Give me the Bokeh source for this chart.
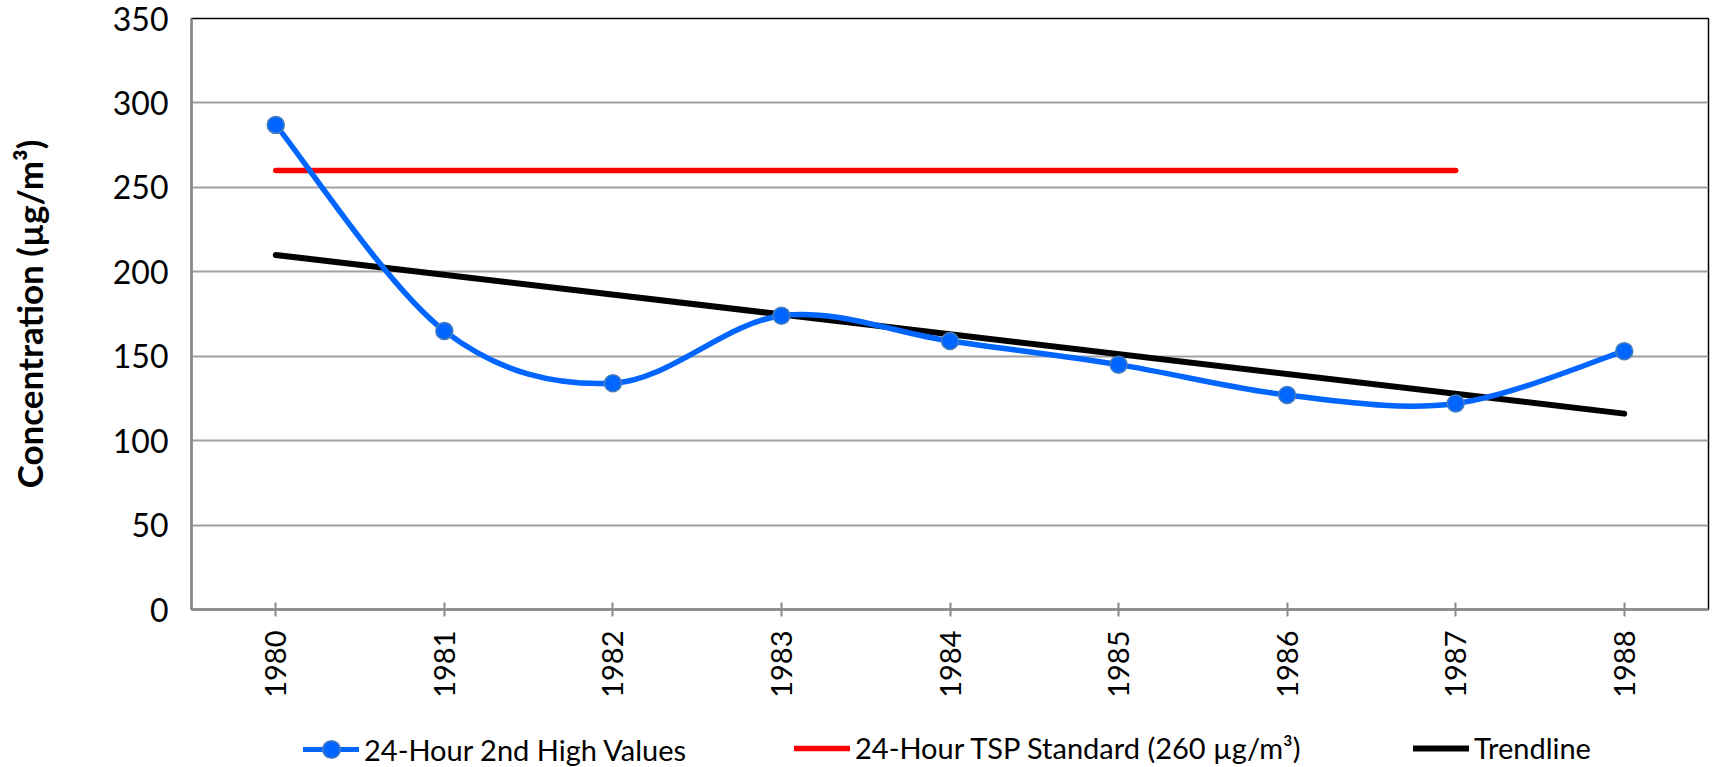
from bokeh.plotting import figure
from bokeh.models import Range1d, Legend, LegendItem, FixedTicker, ColumnDataSource
from bokeh.layouts import column
from bokeh.embed import file_html
from bokeh.resources import INLINE
import math

# ---- data ----
years = [1980, 1981, 1982, 1983, 1984, 1985, 1986, 1987, 1988]
high_values = [287, 165, 134, 174, 159, 145, 127, 122, 153]
std_years = [1980, 1987]
std_values = [260, 260]
trend_years = [1980, 1988]
trend_values = [210, 116]
y_ticks = [0, 50, 100, 150, 200, 250, 300, 350]
series_labels = ["24-Hour 2nd High Values", "24-Hour TSP Standard (260 µg/m³)", "Trendline"]
y_title = "Concentration (µg/m³)"

BLUE = "#0066FF"
RED = "#FF0000"
FONT = "Lato"

# smoothed curve (Catmull-Rom -> cubic Bezier), built from the data
n = len(years)
def P(i):
    i = max(0, min(n - 1, i))
    return years[i], high_values[i]
bz = dict(x0=[], y0=[], x1=[], y1=[], cx0=[], cy0=[], cx1=[], cy1=[])
for i in range(n - 1):
    xa, ya = P(i - 1); xb, yb = P(i); xc, yc = P(i + 1); xd, yd = P(i + 2)
    bz["x0"].append(xb); bz["y0"].append(yb)
    bz["x1"].append(xc); bz["y1"].append(yc)
    bz["cx0"].append(xb + (xc - xa) / 6.0); bz["cy0"].append(yb + (yc - ya) / 6.0)
    bz["cx1"].append(xc - (xd - xb) / 6.0); bz["cy1"].append(yc - (yd - yb) / 6.0)

p = figure(width=1713, height=700, x_range=Range1d(1979.5, 1988.5), y_range=Range1d(0, 350),
           output_backend="svg", toolbar_location=None,
           min_border_left=191, min_border_right=5, min_border_top=18, min_border_bottom=82)

p.background_fill_color = "white"
p.border_fill_color = "white"
p.outline_line_color = "black"
p.outline_line_width = 1.5

# grid
p.xgrid.grid_line_color = None
p.ygrid.ticker = FixedTicker(ticks=y_ticks[:-1])
p.ygrid.grid_line_color = "#a0a0a0"
p.ygrid.grid_line_width = 2

# axes
p.xaxis.ticker = FixedTicker(ticks=years)
p.xaxis.major_label_orientation = math.pi / 2
p.xaxis.major_label_text_font = FONT
p.xaxis.major_label_text_font_size = "29px"
p.xaxis.major_label_text_color = "#000000"
p.xaxis.major_label_standoff = 14
p.xaxis.major_tick_in = 7
p.xaxis.major_tick_out = 7
p.xaxis.major_tick_line_color = "#888888"
p.xaxis.major_tick_line_width = 2
p.xaxis.minor_tick_line_color = None
p.xaxis.axis_line_color = "#888888"
p.xaxis.axis_line_width = 2.5

p.yaxis.ticker = FixedTicker(ticks=y_ticks)
p.yaxis.major_label_text_font = FONT
p.yaxis.major_label_text_font_size = "32px"
p.yaxis.major_label_text_color = "#000000"
p.yaxis.major_label_standoff = 23
p.yaxis.major_tick_in = 0
p.yaxis.major_tick_out = 0
p.yaxis.minor_tick_line_color = None
p.yaxis.axis_line_color = "#888888"
p.yaxis.axis_line_width = 2.5
p.yaxis.axis_label = y_title
p.yaxis.axis_label_text_font = FONT
p.yaxis.axis_label_text_font_style = "bold"
p.yaxis.axis_label_text_font_size = "35px"
p.yaxis.axis_label_text_color = "#000000"
p.yaxis.axis_label_standoff = 60

# series
p.line(std_years, std_values, line_color=RED, line_width=5.5, line_cap="round")
p.line(trend_years, trend_values, line_color="black", line_width=6, line_cap="round")
p.bezier(source=ColumnDataSource(bz), x0="x0", y0="y0", x1="x1", y1="y1",
         cx0="cx0", cy0="cy0", cx1="cx1", cy1="cy1",
         line_color=BLUE, line_width=5.5, line_cap="round")
p.scatter(years, high_values, size=17, marker="circle", fill_color=BLUE,
          line_color="#4a7ebb", line_width=1.5)

# ---- legend strip (own figure; its renderers sit outside its visible range) ----
lg = figure(width=1713, height=67, x_range=Range1d(1979.5, 1988.5), y_range=Range1d(1000, 1001),
            output_backend="svg", toolbar_location=None, x_axis_location=None, y_axis_location=None,
            min_border_left=191, min_border_right=5, min_border_top=0, min_border_bottom=0)
lg.grid.grid_line_color = None
lg.outline_line_color = None
lg.background_fill_color = "white"
lg.border_fill_color = "white"
l_line = lg.line(years, high_values, line_color=BLUE, line_width=5, line_cap="round")
l_pts = lg.scatter(years, high_values, size=17, marker="circle", fill_color=BLUE,
                   line_color="#4a7ebb", line_width=1.5)
l_std = lg.line(std_years, std_values, line_color=RED, line_width=5.5, line_cap="round")
l_trend = lg.line(trend_years, trend_values, line_color="black", line_width=6, line_cap="round")

def add_item(label, renderers, x, y, gh):
    leg = Legend(items=[LegendItem(label=label, renderers=renderers)], location=(x, y),
                 orientation="horizontal", padding=0, margin=0, spacing=0,
                 glyph_width=56, glyph_height=gh, label_height=30, label_standoff=5,
                 label_text_font=FONT, label_text_font_size="29px", label_text_color="#000000",
                 border_line_color=None, background_fill_alpha=0)
    lg.add_layout(leg, "center")

add_item(series_labels[0], [l_line, l_pts], 112, -4, 44)
add_item(series_labels[1], [l_std], 603, 2, 30)
add_item(series_labels[2], [l_trend], 1222, 2, 30)

open("out.html", "w").write(file_html(column(p, lg), INLINE))
